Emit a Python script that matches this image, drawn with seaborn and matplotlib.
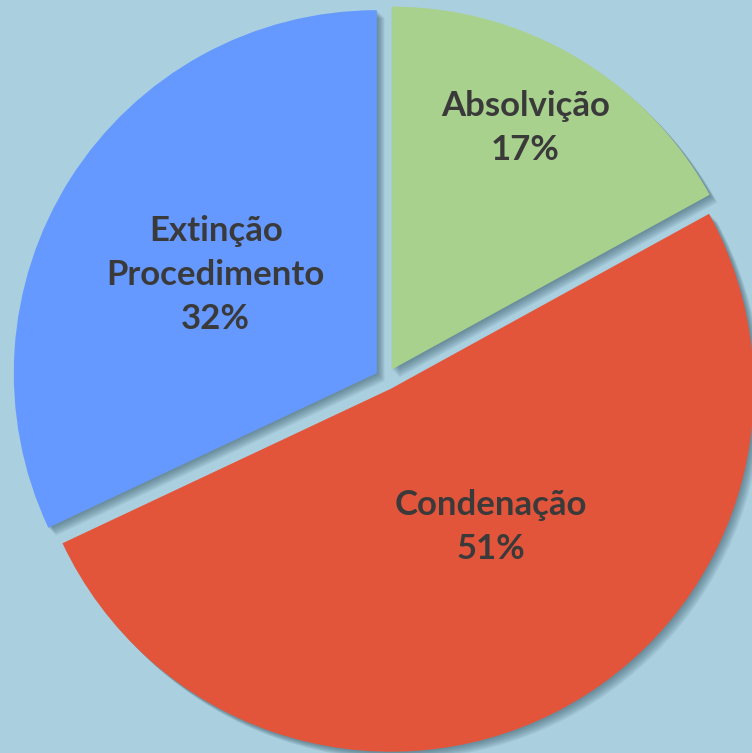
import numpy as np
import matplotlib
matplotlib.use("Agg")
import matplotlib.pyplot as plt
import matplotlib.patheffects as pe
import seaborn as sns

# Data
categories = ["Absolvição", "Condenação", "Extinção\nProcedimento"]
values = [17, 51, 32]
colors = ["#a9d18e", "#e3553b", "#6699ff"]

# label placement (fraction of radius from exploded apex, angle shift in degrees)
label_dist = [0.76, 0.47, 0.52]
label_shift = [1.6, 9.0, 1.0]

sns.set_theme(style="white")
plt.rcParams["font.family"] = ["Lato", "DejaVu Sans"]

bg = "#aacfdf"
fig = plt.figure(figsize=(7.52, 7.53), dpi=100, facecolor=bg)
ax = fig.add_axes([0, 0, 1, 1])
ax.set_facecolor(bg)

explode = [0.03] * len(values)
wedges, _ = ax.pie(values, colors=colors, startangle=90, counterclock=False,
                   explode=explode, radius=1.0,
                   wedgeprops=dict(linewidth=0))

shadow_effects = []
for k in range(1, 8):
    shadow_effects.append(pe.SimplePatchShadow(offset=(k * 0.8, -k * 0.8),
                                               shadow_rgbFace="#2f4f5c", alpha=0.09))
for w in wedges:
    w.set_path_effects(shadow_effects + [pe.Normal()])

total = sum(values)
for w, name, v, d, s in zip(wedges, categories, values, label_dist, label_shift):
    ang = np.deg2rad((w.theta1 + w.theta2) / 2 + s)
    cx, cy = w.center
    x = cx + d * w.r * np.cos(ang)
    y = cy + d * w.r * np.sin(ang)
    ax.text(x, y, f"{name}\n{round(100 * v / total)}%", ha="center", va="center",
            fontsize=25, fontweight="bold", color="#3a3a3a", linespacing=1.47)

ax.set_xlim(-386 / 363, 366 / 363)
ax.set_ylim(-(753 - 379) / 363, 379 / 363)
ax.set_aspect("auto")
ax.axis("off")

fig.savefig("out.png", dpi=100, facecolor=bg)
